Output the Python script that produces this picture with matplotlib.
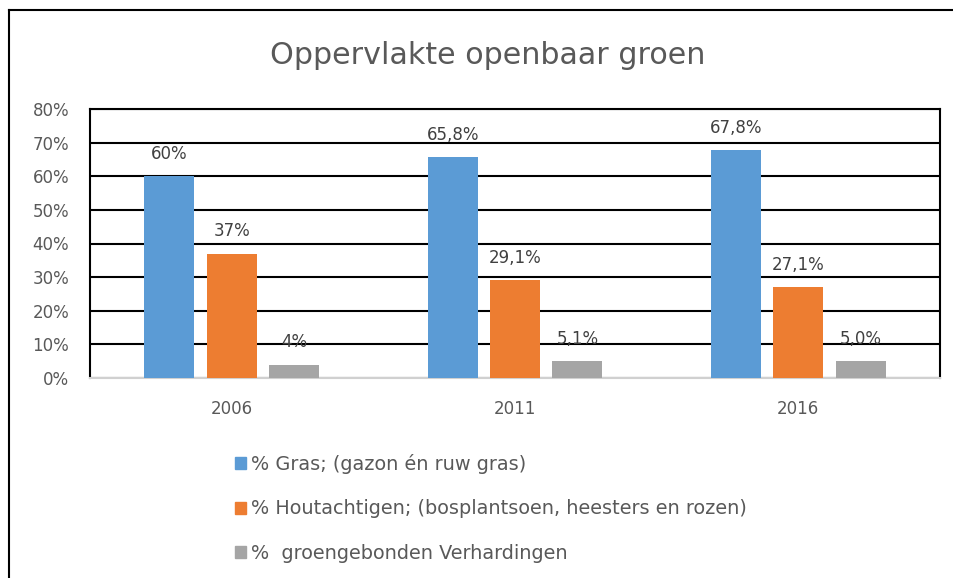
import matplotlib.pyplot as plt
import numpy as np
from matplotlib.patches import Patch
from matplotlib.lines import Line2D

years = ["2006", "2011", "2016"]
series_names = ["% Gras; (gazon én ruw gras)",
                "% Houtachtigen; (bosplantsoen, heesters en rozen)",
                "%  groengebonden Verhardingen"]
gras = [60, 65.8, 67.8]
hout = [37, 29.1, 27.1]
verh = [4, 5.1, 5.0]
gras_lbl = ["60%", "65,8%", "67,8%"]
hout_lbl = ["37%", "29,1%", "27,1%"]
verh_lbl = ["4%", "5,1%", "5,0%"]

colors = ["#5B9BD5", "#ED7D31", "#A5A5A5"]
plt.rcParams['font.family'] = ['DejaVu Sans']

W, H = 954, 578
fig = plt.figure(figsize=(W / 100, H / 100), dpi=100)
ax = fig.add_axes([90 / W, 1 - 378 / H, 850 / W, 269 / H])

x = np.arange(len(years))
bw = 0.177
offs = [-0.22, 0, 0.22]
for vals, lbls, c, o in zip([gras, hout, verh], [gras_lbl, hout_lbl, verh_lbl], colors, offs):
    bars = ax.bar(x + o, vals, bw, color=c, zorder=3)
    for b, l in zip(bars, lbls):
        ax.annotate(l, (b.get_x() + b.get_width() / 2, b.get_height()),
                    xytext=(0, 16), textcoords="offset points",
                    ha="center", va="center", fontsize=12, color="#404040")

ax.set_xlim(-0.5, 2.5)
ax.set_ylim(0, 80)
ax.set_yticks(range(0, 81, 10))
ax.set_yticklabels([f"{v}%" for v in range(0, 81, 10)])
ax.set_xticks(x)
ax.set_xticklabels(years)
ax.tick_params(length=0, labelsize=12, labelcolor="#595959")
ax.tick_params(axis="y", pad=15)
ax.tick_params(axis="x", pad=16)
ax.grid(axis="y", color="black", linewidth=1.5, zorder=1)
for s in ["left", "right", "top"]:
    ax.spines[s].set_color("black")
    ax.spines[s].set_linewidth(1.5)
ax.spines["bottom"].set_color("#D0D0D0")
ax.spines["bottom"].set_linewidth(1.5)

fig.text(488 / W, 1 - 55 / H, "Oppervlakte openbaar groen", ha="center", va="center",
         fontsize=21.7, color="#595959")

handles = [Patch(color=c) for c in colors]
fig.legend(handles, series_names, loc="upper left", bbox_to_anchor=(229 / W, 1 - 448 / H),
           frameon=False, fontsize=13.9, labelcolor="#595959",
           handlelength=0.6, handleheight=0.6, handletextpad=0.25, labelspacing=1.33,
           borderaxespad=0, borderpad=0.3)

# outer chart border (left and top only visible)
fig.add_artist(Line2D([9 / W, 9 / W], [0, 1 - 10 / H], color="black", linewidth=1.5))
fig.add_artist(Line2D([9 / W, 1], [1 - 10 / H, 1 - 10 / H], color="black", linewidth=1.5))

fig.savefig("out.png", dpi=100)
